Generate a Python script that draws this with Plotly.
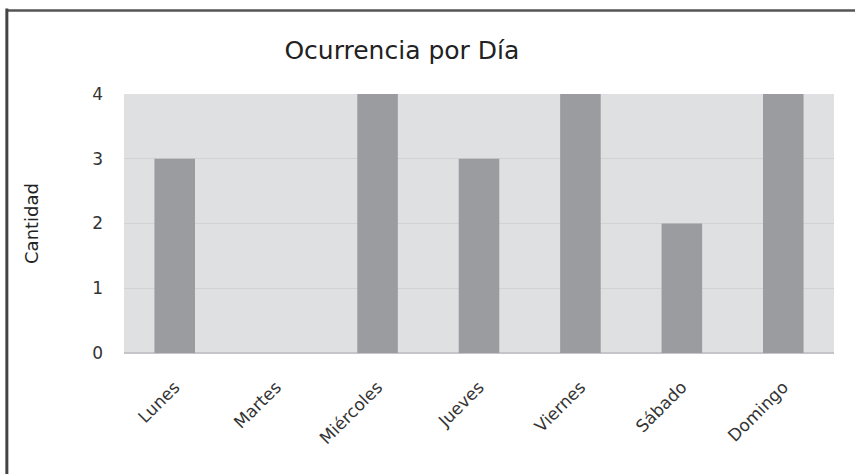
import plotly.graph_objects as go

dias = ["Lunes", "Martes", "Miércoles", "Jueves", "Viernes", "Sábado", "Domingo"]
cantidad = [3, 0, 4, 3, 4, 2, 4]
y_ticks = [0, 1, 2, 3, 4]

FONT = "DejaVu Sans, sans-serif"

fig = go.Figure(go.Bar(
    x=dias, y=cantidad,
    marker=dict(color="#9b9c9f", line=dict(width=0)),
    width=0.4,
))

fig.update_layout(
    width=855, height=474,
    margin=dict(l=124, r=21, t=94, b=121),
    paper_bgcolor="white",
    plot_bgcolor="#dfe0e2",
    font=dict(family=FONT, color="#2a2a2a", size=17),
    title=dict(text="Ocurrencia por Día", x=0.47, xanchor="center",
               y=0.894, yanchor="middle", font=dict(size=25, color="#222")),
    showlegend=False,
)
fig.update_xaxes(
    tickangle=-45, showgrid=False, ticks="", ticklabelstandoff=20,
    tickfont=dict(size=17, color="#333"),
)
fig.update_yaxes(
    range=[0, 4], tickvals=y_ticks, showgrid=True, gridcolor="#d1d2d4",
    gridwidth=1, zeroline=True, zerolinecolor="#c4c5c8", zerolinewidth=1.5,
    title=dict(text="Cantidad", standoff=48, font=dict(size=18, color="#222")),
    tickfont=dict(size=17, color="#333"), ticklabelstandoff=20,
)
# frame lines (top and left) of the original figure
fig.add_shape(type="line", xref="paper", yref="paper", x0=-0.165, x1=1.03,
              y0=1.322, y1=1.322, line=dict(color="#555", width=2.5))
fig.add_shape(type="line", xref="paper", yref="paper", x0=-0.165, x1=-0.165,
              y0=1.33, y1=-0.47, line=dict(color="#444", width=3))

fig.write_html("out.html", config={"displayModeBar": False},
               post_script="document.body.style.margin='0';")
